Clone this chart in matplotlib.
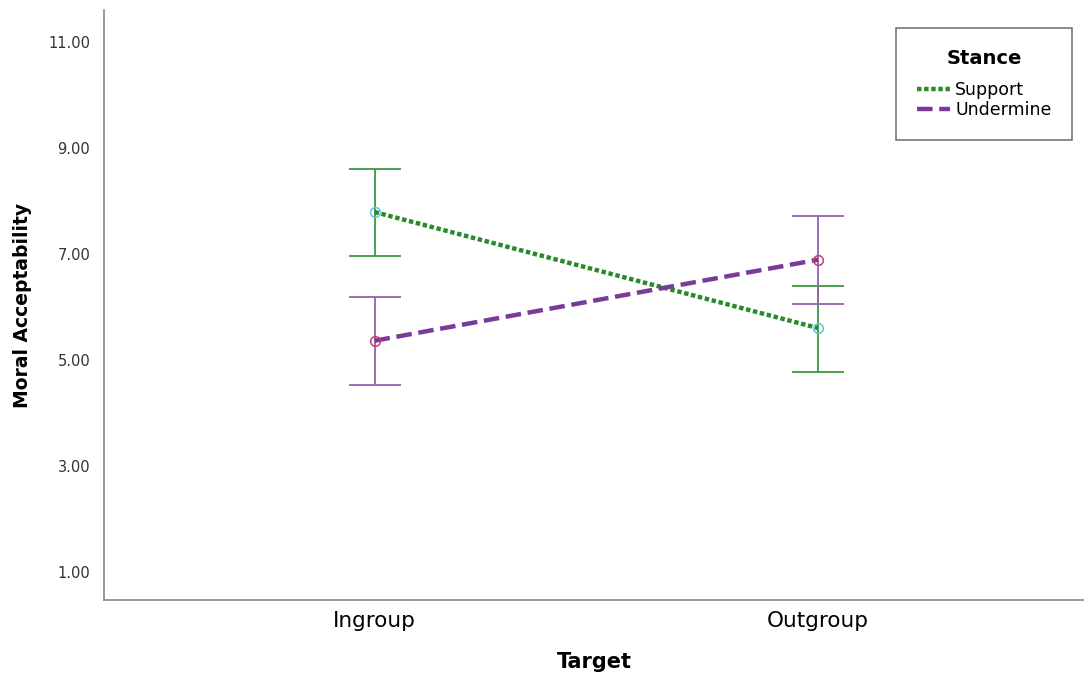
import numpy as np
import matplotlib.pyplot as plt
from matplotlib.lines import Line2D

# data
targets = ["Ingroup", "Outgroup"]
support_mean = [7.79, 5.60]
support_lo = [6.96, 4.77]
support_hi = [8.60, 6.40]
undermine_mean = [5.36, 6.89]
undermine_lo = [4.53, 6.06]
undermine_hi = [6.19, 7.72]
yticks = [1, 3, 5, 7, 9, 11]

green = "#2a8a2a"
purple = "#7a3a9a"

fig = plt.figure(figsize=(10.84, 6.77), dpi=100)
ax = fig.add_axes([0.096, 0.114, 0.904, 0.871])
x = np.arange(len(targets))

# error bars
for mean, lo, hi, col in [(support_mean, support_lo, support_hi, "#3a9a3a"),
                          (undermine_mean, undermine_lo, undermine_hi, "#9560b0")]:
    mean = np.array(mean)
    err = [mean - np.array(lo), np.array(hi) - mean]
    ax.errorbar(x, mean, yerr=err, fmt="none", ecolor=col, elinewidth=1.3,
                capsize=19, capthick=1.3, zorder=2)

ax.plot(x, support_mean, color=green, lw=3.2, ls=(0, (1, 0.6)), zorder=3)
ax.plot(x, undermine_mean, color=purple, lw=3.2, ls=(0, (3.5, 1.5)), zorder=3)
ax.plot(x, support_mean, "o", ms=7, mfc="none", mec="#5bc4ee", mew=1.1, zorder=4)
ax.plot(x, undermine_mean, "o", ms=7, mfc="none", mec="#c4406a", mew=1.1, zorder=4)

ax.set_xlim(-0.61, 1.60)
ax.set_ylim(0.47, 11.6)
ax.set_xticks(x)
ax.set_xticklabels(targets, fontsize=15.5)
ax.set_yticks(yticks)
ax.set_yticklabels(["%.2f" % v for v in yticks], fontsize=10.5, color="#333333")
ax.tick_params(length=0, pad=10)
ax.tick_params(axis="x", pad=8)
ax.spines["top"].set_visible(False)
ax.spines["right"].set_visible(False)
for s in ["left", "bottom"]:
    ax.spines[s].set_color("#888888")
    ax.spines[s].set_linewidth(1.2)

ax.set_xlabel("Target", fontsize=15, fontweight="bold")
ax.xaxis.set_label_coords(0.5, -0.088)
ax.set_ylabel("Moral Acceptability", fontsize=13.5, fontweight="bold")
ax.yaxis.set_label_coords(-0.0735, 0.5)

handles = [Line2D([], [], color=green, lw=3.2, ls=(0, (1, 0.6))),
           Line2D([], [], color=purple, lw=3.2, ls=(0, (3.5, 1.5)))]
leg = ax.legend(handles, ["Support", "Undermine"], title="Stance",
                loc="upper right", bbox_to_anchor=(0.988, 0.969), fontsize=12.5,
                title_fontproperties={"weight": "bold", "size": 14},
                frameon=True, fancybox=False, edgecolor="#555555",
                handlelength=1.9, handletextpad=0.3, borderpad=1.2,
                labelspacing=0.15, borderaxespad=0)
leg._legend_box.sep = 9
leg.get_frame().set_linewidth(1.2)

fig.savefig("out.png", dpi=100)
